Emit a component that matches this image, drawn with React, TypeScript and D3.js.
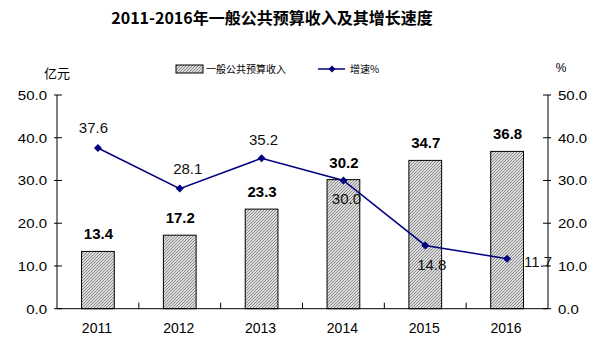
import React from "react";
import * as d3 from "d3";

const years = ["2011", "2012", "2013", "2014", "2015", "2016"];
const revenue = [13.4, 17.2, 23.3, 30.2, 34.7, 36.8];
const growth = [37.6, 28.1, 35.2, 30.0, 14.8, 11.7];
const yTicks = [0, 10, 20, 30, 40, 50];
// label placement for growth values: dx, baseline dy relative to point, anchor
const growthLabelPos: [number, number, string][] = [
  [-4.5, -14.5, "middle"],
  [8, -15, "middle"],
  [2, -13.5, "middle"],
  [3, 23.5, "middle"],
  [6.5, 25, "middle"],
  [17, 8, "start"],
];

export default function App() {
  const W = 612, H = 360;
  const left = 57, right = 548, top = 95, bottom = 308.7;
  const x = d3.scaleBand<string>().domain(years).range([left, right]).paddingInner(0.6).paddingOuter(0.3);
  const xc = d3.scaleBand<string>().domain(years).range([left, right]);
  const y = d3.scaleLinear().domain([0, 50]).range([bottom, top]);
  const line = d3.line<number>().x((_, i) => (xc(years[i]) as number) + xc.bandwidth() / 2).y(d => y(d));
  const font = "Arial, 'Liberation Sans', sans-serif";
  const cjk = "'Noto Sans CJK SC', sans-serif";
  const diamond = (cx: number, cy: number, r = 4) => `M${cx},${cy - r}L${cx + r},${cy}L${cx},${cy + r}L${cx - r},${cy}Z`;
  return (
    <svg width={W} height={H} style={{ position: "absolute", left: 0, top: 0, background: "#fff" }}>
      <defs>
        <pattern id="hatch" patternUnits="userSpaceOnUse" width="3" height="3">
          <rect width="3" height="3" fill="#fff" />
          <path d="M-1,1 L1,-1 M0,3 L3,0 M2,4 L4,2" stroke="#858585" strokeWidth="1.1" />
        </pattern>
      </defs>
      <text x={272} y={24} textAnchor="middle" fontFamily={cjk} fontWeight="bold" fontSize={16}>2011-2016年一般公共预算收入及其增长速度</text>
      {/* units */}
      <text x={57} y={78} textAnchor="middle" fontFamily={cjk} fontSize={13}>亿元</text>
      <text x={561} y={72} textAnchor="middle" fontFamily={font} fontSize={12}>%</text>
      {/* legend */}
      <rect x={176} y={65} width={27} height={8} fill="url(#hatch)" stroke="#000" strokeWidth={1} />
      <text x={206} y={73} fontFamily={cjk} fontSize={10}>一般公共预算收入</text>
      <line x1={318} x2={345} y1={69} y2={69} stroke="#000080" strokeWidth={1.5} />
      <path d={diamond(332, 69, 3.5)} fill="#000080" />
      <text x={350} y={73} fontFamily={cjk} fontSize={10}>增速%</text>
      {/* bars */}
      {revenue.map((v, i) => (
        <g key={i}>
          <rect x={x(years[i])} y={y(v)} width={x.bandwidth()} height={bottom - y(v)} fill="url(#hatch)" stroke="#000" strokeWidth={1} />
          <text x={(x(years[i]) as number) + x.bandwidth() / 2 + 0.5} y={y(v) - 12} textAnchor="middle" fontFamily={font} fontWeight="bold" fontSize={15}>{v.toFixed(1)}</text>
        </g>
      ))}
      {/* axes */}
      <line x1={left} x2={left} y1={top} y2={bottom} stroke="#000" />
      <line x1={right} x2={right} y1={top} y2={bottom} stroke="#000" />
      <line x1={left} x2={right} y1={bottom} y2={bottom} stroke="#000" />
      {yTicks.map(t => (
        <g key={t}>
          <line x1={left - 3} x2={left + 5} y1={y(t)} y2={y(t)} stroke="#000" />
          <line x1={right - 5} x2={right + 3} y1={y(t)} y2={y(t)} stroke="#000" />
          <text transform={`translate(47,${y(t) + 5}) scale(1.25,1)`} textAnchor="end" fontFamily={font} fontSize={12}>{t.toFixed(1)}</text>
          <text transform={`translate(558,${y(t) + 5}) scale(1.25,1)`} textAnchor="start" fontFamily={font} fontSize={12}>{t.toFixed(1)}</text>
        </g>
      ))}
      {years.map((yr, i) => (
        <g key={yr}>
          {i > 0 && <line x1={xc(yr)} x2={xc(yr)} y1={bottom} y2={bottom - 6} stroke="#000" />}
          <text x={(xc(yr) as number) + xc.bandwidth() / 2 - 1} y={bottom + 24} textAnchor="middle" fontFamily={font} fontSize={14}>{yr}</text>
        </g>
      ))}
      {/* growth line */}
      <path d={line(growth) || ""} fill="none" stroke="#000080" strokeWidth={1.5} />
      {growth.map((v, i) => {
        const cx = (xc(years[i]) as number) + xc.bandwidth() / 2;
        const cy = y(v);
        const [dx, dy, anchor] = growthLabelPos[i];
        return (
          <g key={i}>
            <path d={diamond(cx, cy, 4)} fill="#000080" />
            <text x={cx + dx} y={cy + dy} textAnchor={anchor as any} fontFamily={font} fontSize={15} fill="#111">{v.toFixed(1)}</text>
          </g>
        );
      })}
    </svg>
  );
}
